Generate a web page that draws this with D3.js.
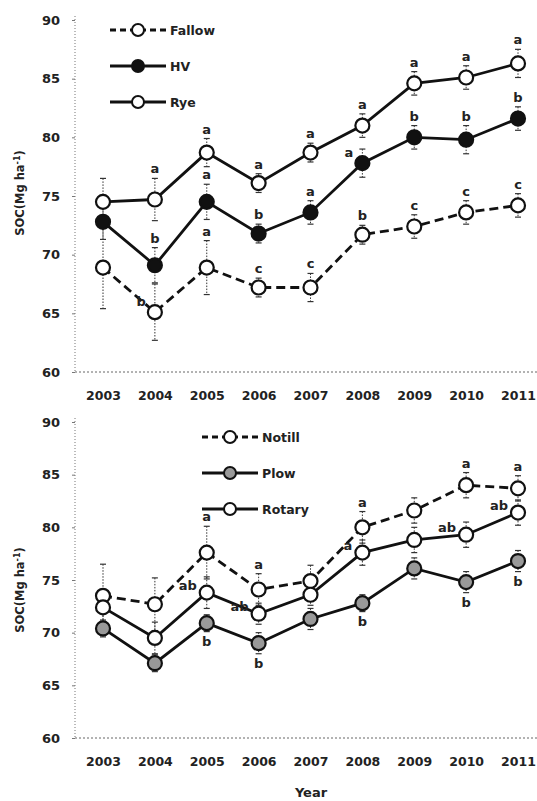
<!DOCTYPE html>
<html>
<head>
<meta charset="utf-8">
<script src="https://cdn.jsdelivr.net/npm/d3@7"></script>
<style>
  body { margin: 0; background: #fff; }
  text { font-family: "DejaVu Sans", Verdana, sans-serif; fill: #222; }
</style>
</head>
<body>
<div id="chart"></div>
<script>
// years on the x axis
const years = [2003, 2004, 2005, 2006, 2007, 2008, 2009, 2010, 2011];
const yTicks = [60, 65, 70, 75, 80, 85, 90];

// top panel: cover crop treatments
const fallow    = [68.9, 65.1, 68.9, 67.2, 67.2, 71.7, 72.4, 73.6, 74.2];
const fallowErr = [3.5, 2.4, 2.3, 0.8, 1.2, 0.8, 1.0, 1.0, 1.0];
const fallowLet = ["", "b", "a", "c", "c", "b", "c", "c", "c"];

const hv    = [72.8, 69.1, 74.5, 71.8, 73.6, 77.8, 80.0, 79.8, 81.6];
const hvErr = [1.5, 1.5, 1.5, 0.8, 1.0, 1.2, 1.0, 1.2, 1.0];
const hvLet = ["", "b", "a", "b", "a", "a", "b", "b", "b"];

const rye    = [74.5, 74.7, 78.7, 76.1, 78.7, 81.0, 84.6, 85.1, 86.3];
const ryeErr = [2.0, 1.8, 1.2, 0.8, 0.8, 1.0, 1.0, 1.0, 1.2];
const ryeLet = ["", "a", "a", "a", "a", "a", "a", "a", "a"];

// bottom panel: tillage treatments
const notill    = [73.5, 72.7, 77.6, 74.1, 74.9, 80.0, 81.6, 84.0, 83.7];
const notillErr = [3.0, 2.5, 2.5, 1.5, 1.5, 1.5, 1.2, 1.2, 1.2];
const notillLet = ["", "", "a", "a", "", "a", "", "a", "a"];

const plow    = [70.4, 67.1, 70.9, 69.0, 71.3, 72.8, 76.1, 74.8, 76.8];
const plowErr = [0.8, 0.8, 0.8, 1.0, 1.0, 0.8, 1.0, 1.0, 1.0];
const plowLet = ["", "", "b", "b", "", "b", "", "b", "b"];

const rotary    = [72.4, 69.5, 73.8, 71.8, 73.6, 77.6, 78.8, 79.3, 81.4];
const rotaryErr = [1.5, 1.5, 1.5, 1.0, 1.0, 1.2, 1.2, 1.2, 1.2];
const rotaryLet = ["", "", "ab", "ab", "", "a", "", "ab", "ab"];

const W = 537, H = 801;
const svg = d3.select("#chart").append("svg")
  .attr("width", W).attr("height", H);

const x = d3.scaleLinear().domain([2003, 2011]).range([103, 518]);

function panel(opts) {
  const y = d3.scaleLinear().domain([60, 90]).range([opts.bottom, opts.top]);
  const g = svg.append("g");

  // dotted axes
  g.append("line")
    .attr("x1", 75).attr("x2", 75)
    .attr("y1", y(90) - 4).attr("y2", y(60))
    .attr("stroke", "#777").attr("stroke-dasharray", "1,2");
  g.append("line")
    .attr("x1", 75).attr("x2", W)
    .attr("y1", y(60)).attr("y2", y(60))
    .attr("stroke", "#666").attr("stroke-dasharray", "2,2");

  const yAxis = d3.axisLeft(y).tickValues(yTicks).tickSize(3).tickPadding(12);
  const ya = g.append("g").attr("transform", "translate(75,0)").call(yAxis);
  ya.select(".domain").remove();
  ya.selectAll(".tick line").attr("stroke", "#777");
  ya.selectAll("text").attr("font-size", 13).attr("font-weight", "bold").attr("fill", "#333")
    .style("font-family", "'DejaVu Sans', sans-serif");

  const xAxis = d3.axisBottom(x).tickValues(years).tickFormat(d3.format("d")).tickSize(0).tickPadding(19);
  const xa = g.append("g").attr("transform", `translate(0,${y(60)})`).call(xAxis);
  xa.select(".domain").remove();
  xa.selectAll("text").attr("font-size", 12.5).attr("font-weight", "bold").attr("fill", "#333")
    .style("font-family", "'DejaVu Sans', sans-serif");

  // y title
  const t = g.append("text")
    .attr("transform", `translate(24,${opts.titleY}) rotate(-90)`)
    .attr("text-anchor", "middle")
    .attr("font-size", 11.5).attr("font-weight", "bold");
  t.append("tspan").text("SOC(Mg ha");
  t.append("tspan").attr("dy", -4).attr("font-size", 8).text("-1");
  t.append("tspan").attr("dy", 4).text(")");

  const line = d3.line().x((d, i) => x(years[i])).y(d => y(d));

  // error bars
  opts.series.forEach(s => {
    const eb = g.append("g");
    s.values.forEach((v, i) => {
      const cx = x(years[i]);
      eb.append("line").attr("x1", cx).attr("x2", cx)
        .attr("y1", y(v + s.err[i])).attr("y2", y(v - s.err[i]))
        .attr("stroke", "#333").attr("stroke-width", 1).attr("stroke-dasharray", "1.5,1.5");
      [v + s.err[i], v - s.err[i]].forEach(e => {
        eb.append("line").attr("x1", cx - 3).attr("x2", cx + 3)
          .attr("y1", y(e)).attr("y2", y(e))
          .attr("stroke", "#333").attr("stroke-width", 1.2);
      });
    });
  });

  // lines and markers
  opts.series.forEach(s => {
    g.append("path").datum(s.values)
      .attr("d", line)
      .attr("fill", "none").attr("stroke", "#111").attr("stroke-width", 2.8)
      .attr("stroke-dasharray", s.dashed ? "9,5" : null);
    g.selectAll(null).data(s.values).join("circle")
      .attr("cx", (d, i) => x(years[i])).attr("cy", d => y(d))
      .attr("r", 7)
      .attr("fill", s.fill).attr("stroke", "#111").attr("stroke-width", 2.2);
  });

  // significance letters
  opts.series.forEach(s => {
    s.letters.forEach((l, i) => {
      if (!l) return;
      const cx = x(years[i]);
      let lx = cx, ly, anchor = "middle";
      if (s.labelAt === "below") {
        ly = y(s.values[i] - s.err[i]) + 14;
      } else if (s.labelAt === "left") {
        lx = cx - 10; ly = y(s.values[i]) - 3; anchor = "end";
      } else {
        ly = y(s.values[i] + s.err[i]) - 5;
        // move to the left if it would sit on another series' marker
        const clash = opts.series.some(o => o !== s &&
          Math.abs(y(o.values[i] - o.err[i]) - ly) < 12 && o.values[i] > s.values[i]);
        if (clash) { lx = cx - 9; ly = y(s.values[i]) - 6; anchor = "end"; }
      }
      g.append("text").attr("x", lx).attr("y", ly)
        .attr("text-anchor", anchor)
        .attr("font-size", 13).attr("font-weight", "bold").attr("fill", "#333")
        .text(l);
    });
  });

  // legend
  opts.series.forEach((s, k) => {
    const ly = opts.legendY + k * 36;
    const lg = g.append("g");
    lg.append("line")
      .attr("x1", opts.legendX).attr("x2", opts.legendX + 56)
      .attr("y1", ly).attr("y2", ly)
      .attr("stroke", "#111").attr("stroke-width", 2.8)
      .attr("stroke-dasharray", s.dashed ? "6,4" : null);
    lg.append("circle")
      .attr("cx", opts.legendX + 28).attr("cy", ly).attr("r", 6)
      .attr("fill", s.fill).attr("stroke", "#111").attr("stroke-width", 2);
    lg.append("text")
      .attr("x", opts.legendX + 60).attr("y", ly + 4.5)
      .attr("font-size", 12.5).attr("font-weight", "bold").attr("fill", "#333")
      .text(s.name);
  });
}

panel({
  top: 20, bottom: 372, titleY: 193, legendX: 110, legendY: 30,
  series: [
    { name: "Fallow", values: fallow, err: fallowErr, letters: fallowLet, dashed: true, fill: "#fff", labelAt: "above" },
    { name: "HV", values: hv, err: hvErr, letters: hvLet, dashed: false, fill: "#111", labelAt: "above" },
    { name: "Rye", values: rye, err: ryeErr, letters: ryeLet, dashed: false, fill: "#fff", labelAt: "above" }
  ]
});

panel({
  top: 422, bottom: 738, titleY: 590, legendX: 202, legendY: 437,
  series: [
    { name: "Notill", values: notill, err: notillErr, letters: notillLet, dashed: true, fill: "#fff", labelAt: "above" },
    { name: "Plow", values: plow, err: plowErr, letters: plowLet, dashed: false, fill: "#999", labelAt: "below" },
    { name: "Rotary", values: rotary, err: rotaryErr, letters: rotaryLet, dashed: false, fill: "#fff", labelAt: "left" }
  ]
});

svg.append("text")
  .attr("x", 311).attr("y", 797)
  .attr("text-anchor", "middle")
  .attr("font-size", 13).attr("font-weight", "bold")
  .text("Year");
</script>
</body>
</html>
